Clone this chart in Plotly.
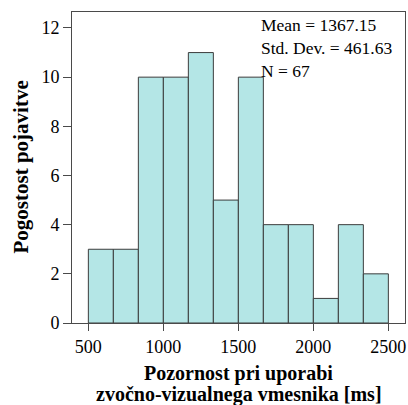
import plotly.graph_objects as go

bin_edges = [500, 666.67, 833.33, 1000, 1166.67, 1333.33, 1500,
             1666.67, 1833.33, 2000, 2166.67, 2333.33, 2500]
counts = [3, 3, 10, 10, 11, 5, 10, 4, 4, 1, 4, 2]
x_ticks = [500, 1000, 1500, 2000, 2500]
y_ticks = [0, 2, 4, 6, 8, 10, 12]
stats_text = ["Mean = 1367.15", "Std. Dev. = 461.63", "N = 67"]
x_title = ["Pozornost pri uporabi", "zvočno-vizualnega vmesnika [ms]"]
y_title = "Pogostost pojavitve"

centers = [(a + b) / 2 for a, b in zip(bin_edges[:-1], bin_edges[1:])]
widths = [b - a for a, b in zip(bin_edges[:-1], bin_edges[1:])]

font = "Liberation Serif"

fig = go.Figure(go.Bar(
    x=centers, y=counts, width=widths,
    marker=dict(color="#b4e6e6", line=dict(color="#3c3c3c", width=1)),
    hoverinfo="skip",
))

annotations = [dict(
    x=0, y=1, xref="paper", yref="paper", xanchor="left", yanchor="middle",
    xshift=187, yshift=-36, text="<br>".join(stats_text), showarrow=False,
    align="left", font=dict(family=font, size=17.5, color="black"),
)]
for i, t in enumerate(x_title):
    annotations.append(dict(
        x=0.5, y=0, xref="paper", yref="paper", xanchor="center", yanchor="middle",
        yshift=-(50 + 21.5 * i), text="<b>" + t + "</b>", showarrow=False,
        font=dict(family=font, size=20, color="black"),
    ))
annotations.append(dict(
    x=0, y=0.5, xref="paper", yref="paper", xanchor="center", yanchor="middle",
    xshift=-52, textangle=-90, text="<b>" + y_title + "</b>", showarrow=False,
    font=dict(family=font, size=21, color="black"),
))

fig.update_layout(
    width=408, height=405,
    margin=dict(l=72, r=3, t=12, b=82),
    plot_bgcolor="white", paper_bgcolor="white",
    showlegend=False,
    font=dict(family=font, color="black", size=18),
    annotations=annotations,
)
fig.update_xaxes(
    range=[391, 2611], tickvals=x_ticks, ticktext=[str(v) for v in x_ticks],
    showgrid=False, zeroline=False, showline=True, mirror=True,
    linecolor="#4a4a4a", linewidth=1, ticks="outside", ticklen=7,
    tickcolor="#4a4a4a", tickfont=dict(size=18, family=font),
)
fig.update_yaxes(
    range=[0, 12.65], tickvals=y_ticks,
    showgrid=False, zeroline=False, showline=True, mirror=True,
    linecolor="#4a4a4a", linewidth=1, ticks="outside", ticklen=8,
    tickcolor="#4a4a4a", tickfont=dict(size=18, family=font),
)

fig.write_html("out.html")
